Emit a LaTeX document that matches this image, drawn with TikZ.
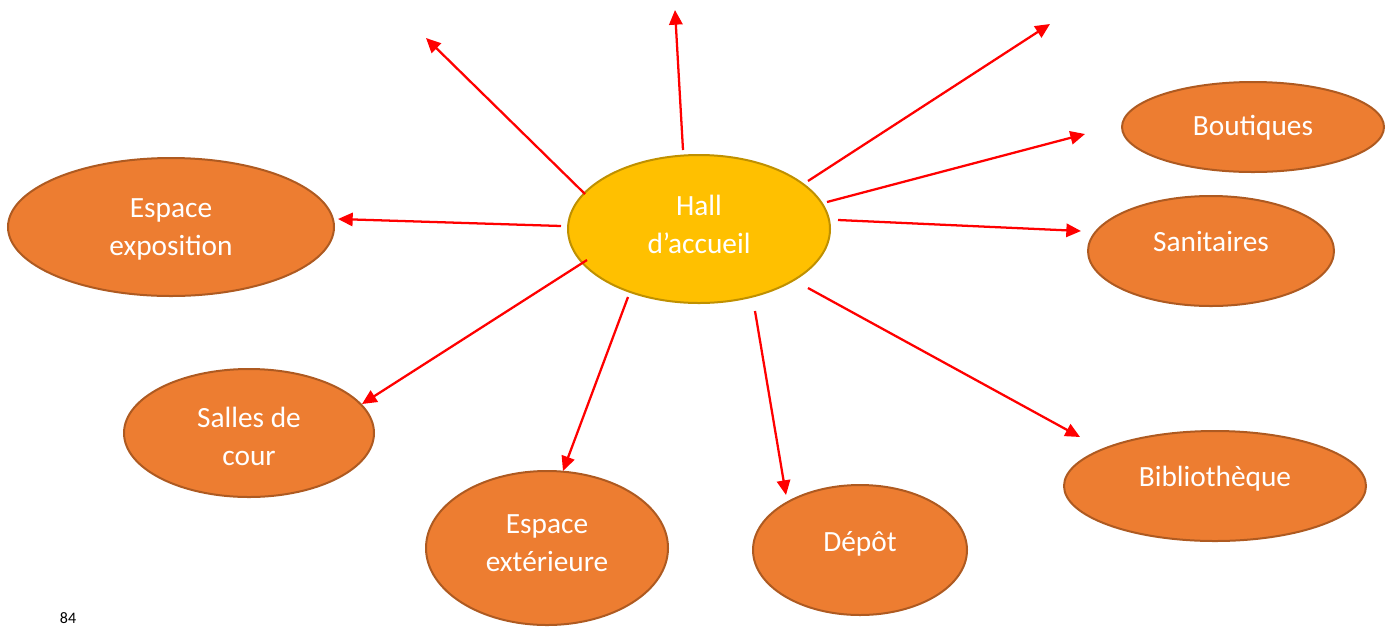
\documentclass[tikz,border=0pt]{standalone}
\usepackage{fontspec}
\setmainfont{Carlito}
\usetikzlibrary{arrows.meta,shapes.geometric,calc}
\definecolor{orangefill}{HTML}{ED7D31}
\definecolor{orangeline}{HTML}{AE5A21}
\definecolor{hallfill}{HTML}{FFC000}
\definecolor{hallline}{HTML}{BF9000}
\tikzset{
  bubble/.style={ellipse, draw=orangeline, fill=orangefill, line width=1.5pt, inner sep=0pt},
  hallbubble/.style={ellipse, draw=hallline, fill=hallfill, line width=1.5pt, inner sep=0pt},
  txt/.style={text=white, font=\fontsize{22}{28.5}\selectfont, inner sep=0pt, align=center, anchor=base},
  arr/.style={draw=red, line width=1.7pt, -{Triangle[length=11pt,width=10pt]}},
}
\begin{document}
\begin{tikzpicture}[x=0.75pt,y=-0.75pt]
\useasboundingbox (0,0) rectangle (1395,626);
% ellipses
\node[hallbubble, minimum width=196.5pt, minimum height=111pt] (hall) at (699,229) {};
\node[bubble, minimum width=244.5pt, minimum height=103.5pt] (expo) at (171,227) {};
\node[bubble, minimum width=196.5pt, minimum height=67.5pt] (bout) at (1253,127) {};
\node[bubble, minimum width=184.5pt, minimum height=82.5pt] (sani) at (1211,251) {};
\node[bubble, minimum width=187.5pt, minimum height=96pt] (salles) at (249,433) {};
\node[bubble, minimum width=181.5pt, minimum height=115.5pt] (ext) at (547,548) {};
\node[bubble, minimum width=160.5pt, minimum height=97.5pt] (depot) at (860,550) {};
\node[bubble, minimum width=226.5pt, minimum height=82.5pt] (biblio) at (1215,486) {};
% texts (base anchor = baseline of last line)
\node[txt] (hallt) at (699,253) {Hall\\d’accueil};
\node[txt] (expot) at (171,255) {Espace\\exposition};
\node[txt] (boutt) at (1253,135) {Boutiques};
\node[txt] (sanit) at (1211,251) {Sanitaires};
\node[txt] (sallest) at (249,465) {Salles de\\cour};
\node[txt] (extt) at (547,571) {Espace\\extérieure};
\node[txt] (depott) at (860,551) {Dépôt};
\node[txt] (bibliot) at (1215,486) {Bibliothèque};
\node[anchor=base, inner sep=0pt, font=\fontsize{12}{14}\selectfont] (page) at (68,623) {84};
% arrow end points
\coordinate (s1) at (585,194);  \coordinate (t1) at (426,38);
\coordinate (s2) at (683,150);  \coordinate (t2) at (675,10);
\coordinate (s3) at (808,181);  \coordinate (t3) at (1050,24);
\coordinate (s4) at (827,202);  \coordinate (t4) at (1085,134);
\coordinate (s5) at (838,220);  \coordinate (t5) at (1081,231);
\coordinate (s6) at (561,226);  \coordinate (t6) at (338,219);
\coordinate (s7) at (587,260);  \coordinate (t7) at (362,404);
\coordinate (s8) at (628,297);  \coordinate (t8) at (563,471);
\coordinate (s9) at (755,311);  \coordinate (t9) at (786,495);
\coordinate (s10) at (808,288); \coordinate (t10) at (1080,437);
\foreach \i in {1,...,10} { \draw[arr] (s\i) -- (t\i); }
\end{tikzpicture}
\end{document}
